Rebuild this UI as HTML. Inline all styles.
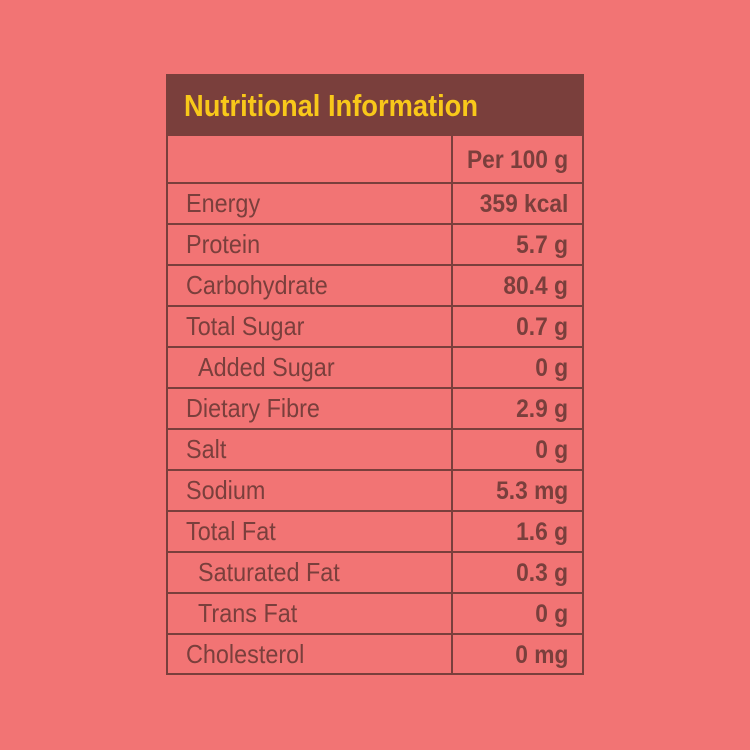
<!DOCTYPE html>
<html><head><meta charset="utf-8"><style>
html,body{margin:0;padding:0;}
body{width:750px;height:750px;background:#F27474;position:relative;overflow:hidden;font-family:"Liberation Sans",sans-serif;}
.hdr{position:absolute;left:166px;top:74px;width:418px;height:62px;background:#7A3F3C;}
.hdr span{position:absolute;left:18px;top:14px;color:#F8C81A;font-weight:bold;font-size:31px;white-space:nowrap;transform:scaleX(0.88);transform-origin:left center;}
.box{position:absolute;left:166px;top:136px;width:414px;height:537px;border:2px solid #7A3F3C;border-top:none;}
.vl{position:absolute;left:451px;top:136px;width:2px;height:539px;background:#7A3F3C;}
.hl{position:absolute;left:166px;width:418px;height:2px;background:#7A3F3C;}
.l,.r{position:absolute;color:#7A3F3C;font-size:26px;white-space:nowrap;line-height:30px;}
.l{left:186px;transform:scaleX(0.9);transform-origin:left center;}
.r{right:182px;font-weight:bold;font-size:25px;transform:scaleX(0.91);transform-origin:right center;}
</style></head><body>
<div class="hdr"><span>Nutritional Information</span></div>
<div class="box"></div>
<div class="vl"></div>
<div class="hl" style="top:182px"></div>
<div class="hl" style="top:223px"></div>
<div class="hl" style="top:264px"></div>
<div class="hl" style="top:305px"></div>
<div class="hl" style="top:346px"></div>
<div class="hl" style="top:387px"></div>
<div class="hl" style="top:428px"></div>
<div class="hl" style="top:469px"></div>
<div class="hl" style="top:510px"></div>
<div class="hl" style="top:551px"></div>
<div class="hl" style="top:592px"></div>
<div class="hl" style="top:633px"></div>
<div class="r" style="top:145px">Per 100 g</div>
<div class="l" style="top:188px">Energy</div><div class="r" style="top:189px">359 kcal</div>
<div class="l" style="top:229px">Protein</div><div class="r" style="top:230px">5.7 g</div>
<div class="l" style="top:270px">Carbohydrate</div><div class="r" style="top:271px">80.4 g</div>
<div class="l" style="top:311px">Total Sugar</div><div class="r" style="top:312px">0.7 g</div>
<div class="l" style="top:352px;left:198px">Added Sugar</div><div class="r" style="top:353px">0 g</div>
<div class="l" style="top:393px">Dietary Fibre</div><div class="r" style="top:394px">2.9 g</div>
<div class="l" style="top:434px">Salt</div><div class="r" style="top:435px">0 g</div>
<div class="l" style="top:475px">Sodium</div><div class="r" style="top:476px">5.3 mg</div>
<div class="l" style="top:516px">Total Fat</div><div class="r" style="top:517px">1.6 g</div>
<div class="l" style="top:557px;left:198px">Saturated Fat</div><div class="r" style="top:558px">0.3 g</div>
<div class="l" style="top:598px;left:198px">Trans Fat</div><div class="r" style="top:599px">0 g</div>
<div class="l" style="top:639px">Cholesterol</div><div class="r" style="top:640px">0 mg</div>
</body></html>
